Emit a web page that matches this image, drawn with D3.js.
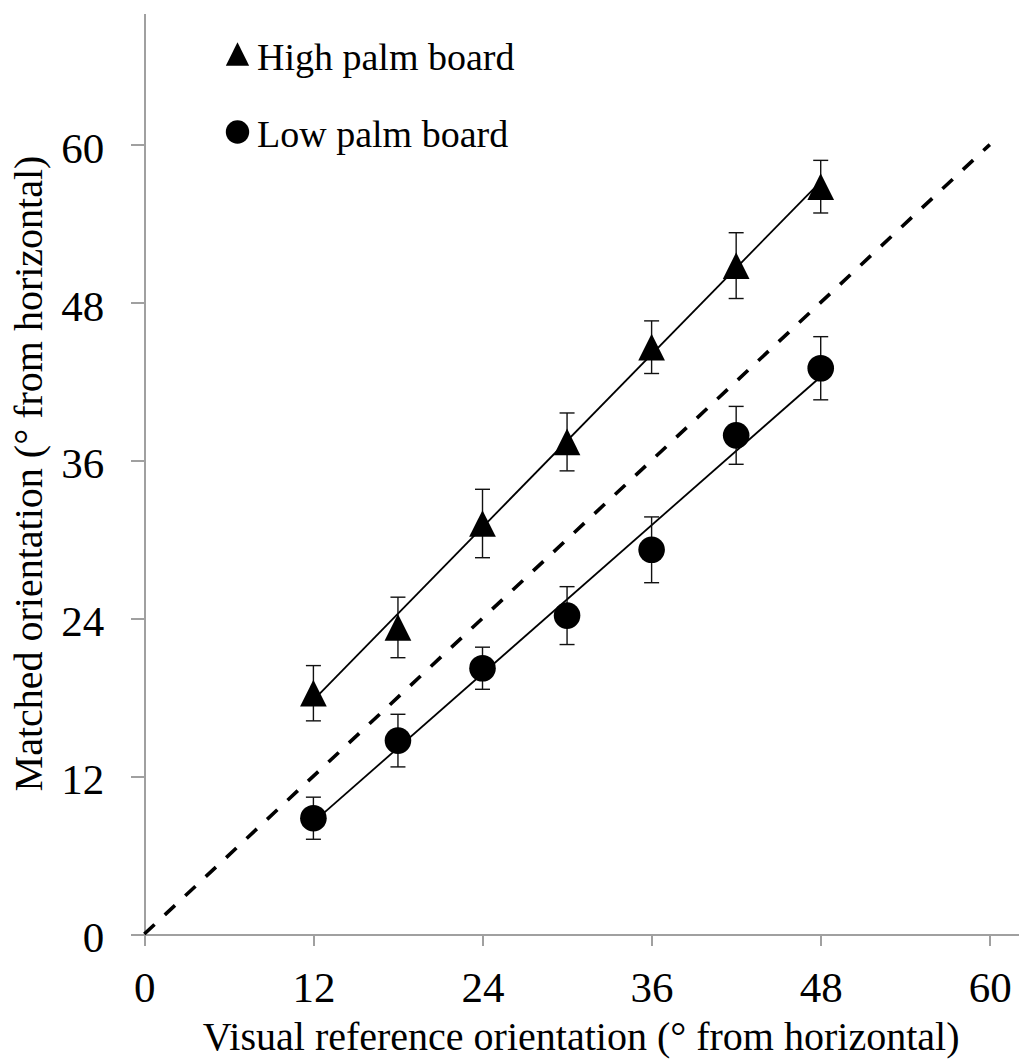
<!DOCTYPE html>
<html>
<head>
<meta charset="utf-8">
<script src="https://cdn.jsdelivr.net/npm/d3@7/dist/d3.min.js"></script>
<style>
  html, body { margin: 0; padding: 0; background: #fff; }
  svg { display: block; font-family: "Liberation Serif", "DejaVu Serif", serif; }
  .axis path, .axis line { stroke: #a0a0a0; stroke-width: 2; shape-rendering: crispEdges; }
  .axis text { fill: #000; font-size: 43px; font-family: "Liberation Serif", "DejaVu Serif", serif; }
</style>
</head>
<body>
<div class="chart"></div>
<script>

//////////
// DATA //
//////////

var refAngles = [12, 18, 24, 30, 36, 42, 48];

var highMean = [18.3, 23.3, 31.2, 37.4, 44.6, 50.8, 56.8],
    highErr  = [2.1, 2.3, 2.6, 2.2, 2.0, 2.5, 2.0];

var lowMean = [8.8, 14.7, 20.2, 24.2, 29.2, 37.9, 43.0],
    lowErr  = [1.6, 2.0, 1.6, 2.2, 2.5, 2.2, 2.4];

var tickValues = [0, 12, 24, 36, 48, 60];

var legendLabels = ['High palm board', 'Low palm board'];

/////////////////
// DIMENSIONS  //
/////////////////

var w = 1021,
    h = 1059;

var svg = d3.select('.chart')
    .append('svg')
    .attr('width', w)
    .attr('height', h);

////////////
// SCALES //
////////////

var xScale = d3.scaleLinear()
    .domain([0, 62])
    .range([144.3, 1018]);

var yScale = d3.scaleLinear()
    .domain([0, 70])
    .range([934, 13]);

//////////
// AXIS //
//////////

var xAxis = d3.axisBottom(xScale)
    .tickValues(tickValues)
    .tickSizeInner(12)
    .tickSizeOuter(0)
    .tickPadding(25.5)
    .tickFormat(d3.format('d'));

var yAxis = d3.axisLeft(yScale)
    .tickValues(tickValues)
    .tickSizeInner(13)
    .tickSizeOuter(0)
    .tickPadding(27)
    .tickFormat(d3.format('d'));

svg.append('g')
    .attr('class', 'axis')
    .attr('transform', 'translate(0,' + yScale(0) + ')')
    .call(xAxis)
    .attr('font-family', null)
    .attr('font-size', null);

svg.append('g')
    .attr('class', 'axis')
    .attr('transform', 'translate(' + xScale(0) + ',0)')
    .call(yAxis)
    .attr('font-family', null)
    .attr('font-size', null)
    .selectAll('text')
    .attr('dy', '0.41em');

// axis titles
svg.append('text')
    .attr('x', (xScale.range()[0] + xScale.range()[1]) / 2)
    .attr('y', 1050)
    .attr('text-anchor', 'middle')
    .style('font-size', '40px')
    .text('Visual reference orientation (° from horizontal)');

svg.append('text')
    .attr('transform', 'translate(42,' + (yScale.range()[0] + yScale.range()[1]) / 2 + ') rotate(-90)')
    .attr('text-anchor', 'middle')
    .style('font-size', '40px')
    .text('Matched orientation (° from horizontal)');

///////////////////
// IDENTITY LINE //
///////////////////

svg.append('line')
    .attr('x1', xScale(0))
    .attr('y1', yScale(0))
    .attr('x2', xScale(60))
    .attr('y2', yScale(60))
    .attr('stroke', '#000')
    .attr('stroke-width', 3.6)
    .attr('stroke-dasharray', '14,14');

////////////////
// TRENDLINES //
////////////////

function fit(xs, ys) {
    var mx = d3.mean(xs), my = d3.mean(ys);
    var sxy = d3.sum(xs, function(x, i) { return (x - mx) * (ys[i] - my); }),
        sxx = d3.sum(xs, function(x) { return (x - mx) * (x - mx); });
    var slope = sxy / sxx;
    return function(x) { return my + slope * (x - mx); };
}

[highMean, lowMean].forEach(function(series) {
    var f = fit(refAngles, series),
        x0 = d3.min(refAngles),
        x1 = d3.max(refAngles);
    svg.append('line')
        .attr('x1', xScale(x0))
        .attr('y1', yScale(f(x0)))
        .attr('x2', xScale(x1))
        .attr('y2', yScale(f(x1)))
        .attr('stroke', '#000')
        .attr('stroke-width', 1.8);
});

////////////////
// ERROR BARS //
////////////////

function errorBars(means, errs) {
    var g = svg.append('g')
        .attr('stroke', '#111')
        .attr('stroke-width', 1.4);

    refAngles.forEach(function(x, i) {
        var cx = xScale(x),
            top = yScale(means[i] + errs[i]),
            bot = yScale(means[i] - errs[i]);
        g.append('line').attr('x1', cx).attr('x2', cx).attr('y1', top).attr('y2', bot);
        g.append('line').attr('x1', cx - 7.5).attr('x2', cx + 7.5).attr('y1', top).attr('y2', top);
        g.append('line').attr('x1', cx - 7.5).attr('x2', cx + 7.5).attr('y1', bot).attr('y2', bot);
    });
}

errorBars(highMean, highErr);
errorBars(lowMean, lowErr);

/////////////
// MARKERS //
/////////////

function trianglePath(cx, cy, s) {
    return 'M' + cx + ',' + (cy - s / 2) +
        'L' + (cx + s / 2) + ',' + (cy + s / 2) +
        'L' + (cx - s / 2) + ',' + (cy + s / 2) + 'Z';
}

svg.selectAll('.high')
    .data(highMean)
    .enter()
    .append('path')
    .attr('class', 'high')
    .attr('d', function(d, i) { return trianglePath(xScale(refAngles[i]), yScale(d), 26.7); })
    .attr('fill', '#000');

svg.selectAll('.low')
    .data(lowMean)
    .enter()
    .append('circle')
    .attr('class', 'low')
    .attr('cx', function(d, i) { return xScale(refAngles[i]); })
    .attr('cy', function(d) { return yScale(d); })
    .attr('r', 13.3)
    .attr('fill', '#000');

////////////
// LEGEND //
////////////

svg.append('path')
    .attr('d', trianglePath(237.5, 54, 23.3))
    .attr('fill', '#000');

svg.append('circle')
    .attr('cx', 237.5)
    .attr('cy', 132)
    .attr('r', 11.7)
    .attr('fill', '#000');

svg.selectAll('.legend-text')
    .data(legendLabels)
    .enter()
    .append('text')
    .attr('class', 'legend-text')
    .attr('x', 257)
    .attr('y', function(d, i) { return i === 0 ? 70 : 147; })
    .style('font-size', '38px')
    .text(function(d) { return d; });

</script>
</body>
</html>
